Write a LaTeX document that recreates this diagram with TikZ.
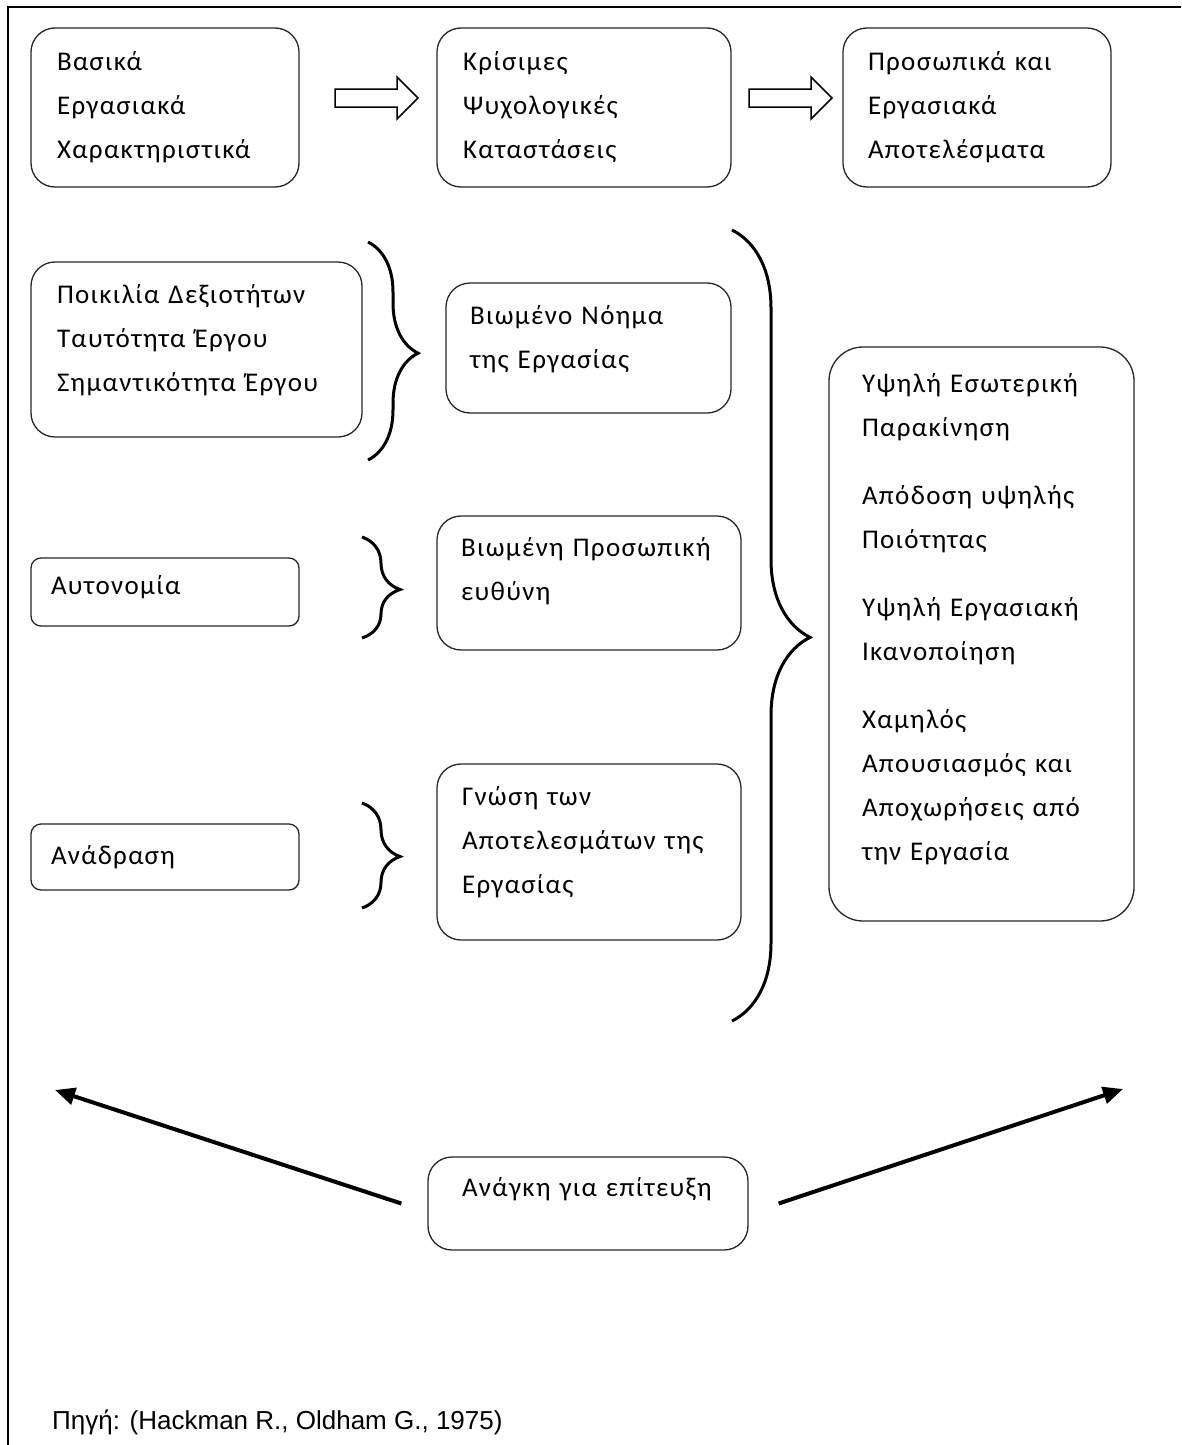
\documentclass[tikz,border=0pt]{standalone}
\usepackage{fontspec}
\setmainfont{Carlito}[LetterSpace=5]
\newfontfamily\srcfont{Liberation Sans}
\usetikzlibrary{arrows.meta,decorations.pathreplacing}

% zero-width rule that deepens the last line, lifts the text in its box
\newcommand{\lift}[1]{\rule[-#1]{0pt}{#1}}

\begin{document}
\begin{tikzpicture}[x=1pt, y=-1pt,
  box/.style={draw=black!85, line width=1.3pt, rounded corners=24pt, align=left, inner sep=0pt, font=\fontsize{27}{44}\selectfont},
  smallbox/.style={box, rounded corners=10pt},
  hollow/.style={draw, line width=1.5pt, fill=white},
  curly/.style 2 args={decorate, decoration={brace, amplitude=#1, aspect=#2}, line width=3pt},
  push/.style={line width=4pt, -{Triangle[length=20pt,width=17pt]}}]

\useasboundingbox (0,0) rectangle (1181,1445);
\draw[line width=2pt] (8,1445) -- (8,7) -- (1181,7);

% top row
\node[box, minimum width=268, minimum height=159, text width=216] (basic) at (165,107.5) {Βασικά\\Εργασιακά\\Χαρακτηριστικά};
\node[box, minimum width=294, minimum height=159, text width=242] (crit) at (584,107.5) {Κρίσιμες\\Ψυχολογικές\\Καταστάσεις};
\node[box, minimum width=268, minimum height=159, text width=218] (res) at (977,107.5) {Προσωπικά και\\Εργασιακά\\Αποτελέσματα};

\foreach \x in {335,749}
  \draw[hollow, shift={(\x,0)}] (0,89) -- (62,89) -- (62,77) -- (83,98) -- (62,119) -- (62,107) -- (0,107) -- cycle;

% left column
\node[box, minimum width=331, minimum height=175, text width=279] (skills) at (196.5,349.5) {Ποικιλία Δεξιοτήτων\\Ταυτότητα Έργου\\Σημαντικότητα Έργου\lift{24pt}};
\node[smallbox, minimum width=268, minimum height=68, text width=228] (auto) at (165,592) {Αυτονομία\lift{14pt}};
\node[smallbox, minimum width=268, minimum height=66, text width=228] (feed) at (165,857) {Ανάδραση};

% middle column
\node[box, minimum width=285, minimum height=130, text width=237] (meaning) at (588.5,348) {Βιωμένο Νόημα\\της Εργασίας\lift{22pt}};
\node[box, minimum width=304, minimum height=134, text width=256] (resp) at (589,583) {Βιωμένη Προσωπική\\ευθύνη\lift{29pt}};
\node[box, minimum width=304, minimum height=176, text width=254] (know) at (589,852) {Γνώση των\\Αποτελεσμάτων της\\Εργασίας\lift{25pt}};

% right column
\node[box, rounded corners=34pt, minimum width=305, minimum height=574, text width=239] (out) at (981.5,634) {Υψηλή Εσωτερική\\Παρακίνηση\\[24pt]Απόδοση υψηλής\\Ποιότητας\\[24pt]Υψηλή Εργασιακή\\Ικανοποίηση\\[24pt]Χαμηλός\\Απουσιασμός και\\Αποχωρήσεις από\\την Εργασία\lift{34pt}};

% braces
\draw[curly={50pt}{0.51}] (368,242) -- (368,460);
\draw[curly={38pt}{0.52}] (362,537) -- (362,638);
\draw[curly={38pt}{0.51}] (362,803) -- (362,908);
\draw[curly={78pt}{0.515}] (732,230) -- (732,1021);

% bottom
\node[box, minimum width=320, minimum height=93, text width=252] (need) at (588,1203.5) {Ανάγκη για επίτευξη\lift{33pt}};
\coordinate (lefttip) at (55,1090);
\coordinate (righttip) at (1123,1089);
\draw[push] ([xshift=-26pt]need.west) -- (lefttip);
\draw[push] ([xshift=30pt]need.east) -- (righttip);

\node[font=\srcfont\fontsize{26}{30}\selectfont, anchor=west, inner sep=0pt] (src) at (52,1422) {Πηγή: (Hackman R., Oldham G., 1975)};

\end{tikzpicture}
\end{document}
